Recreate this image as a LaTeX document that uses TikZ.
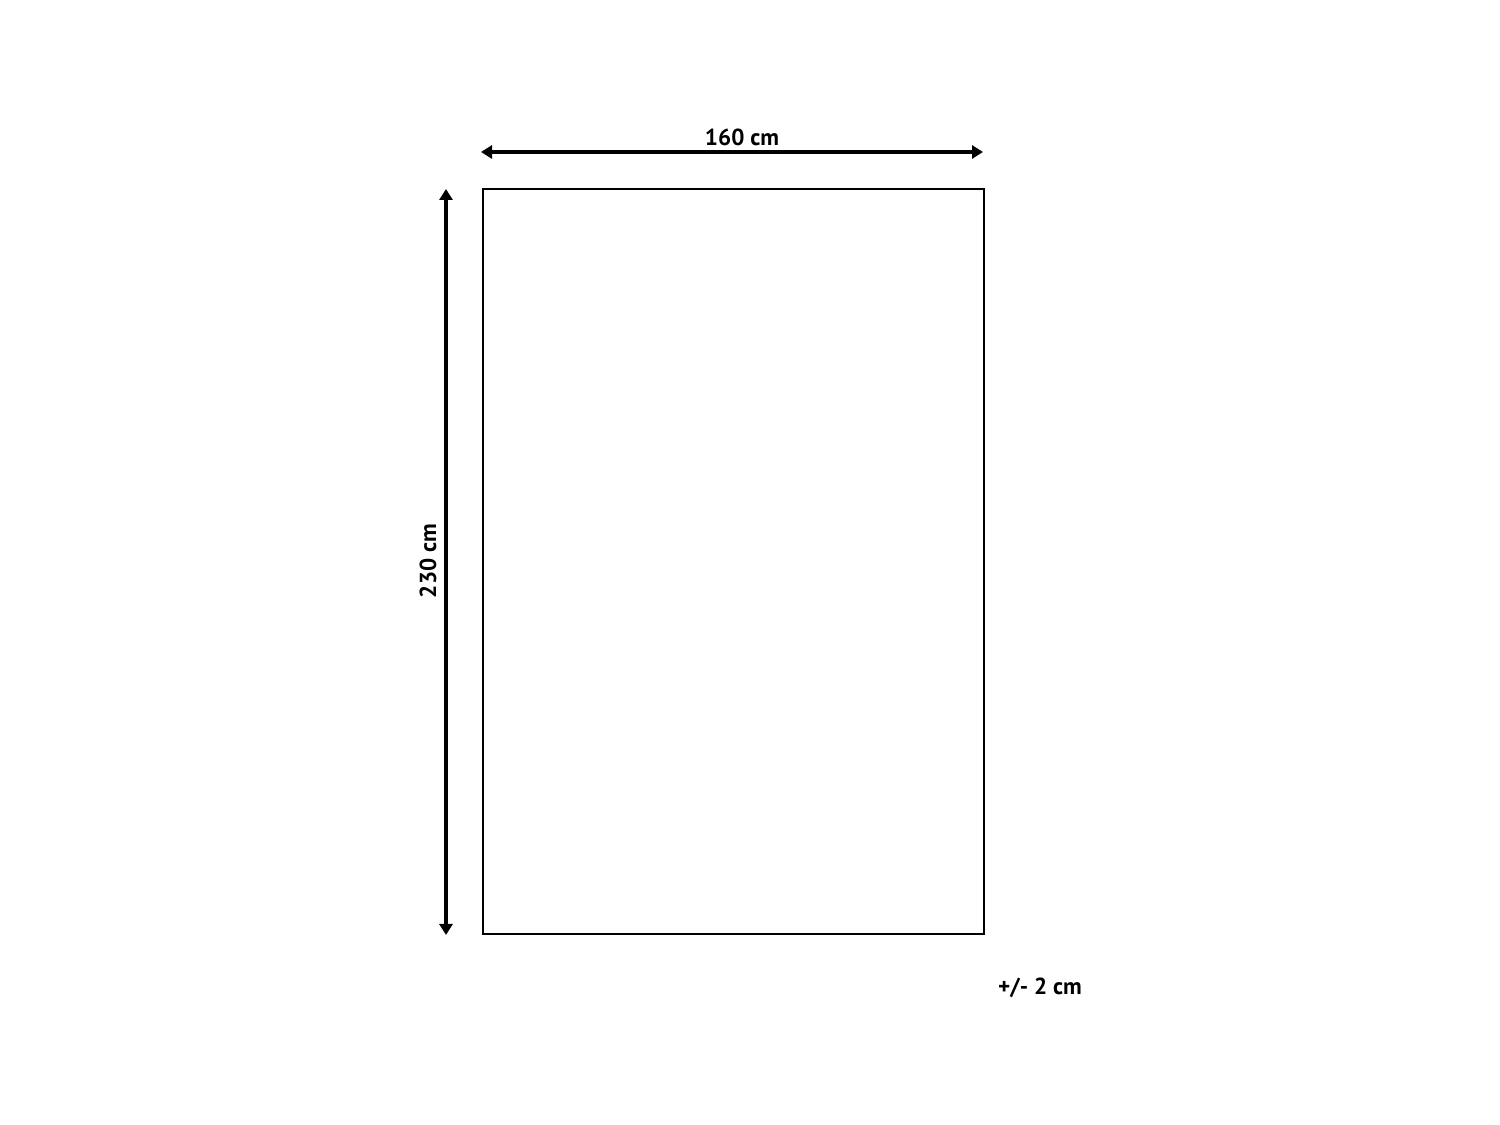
\documentclass[tikz,border=0pt]{standalone}
\usepackage{fontspec}
\setmainfont{PT Sans}
\usetikzlibrary{arrows.meta}
\tikzset{dimline/.style={line width=1.1pt, {Triangle[length=1.1mm,width=1.3mm]}-{Triangle[length=1.1mm,width=1.3mm]}},
  dimtext/.style={font=\fontsize{6.6}{8}\selectfont\bfseries, inner sep=0pt}}
\begin{document}
\begin{tikzpicture}
\useasboundingbox (0,0) rectangle (15,11.25);
\node[draw, line width=0.3pt, minimum width=5.01cm, minimum height=7.45cm, inner sep=0pt] (rug) at (7.335,5.635){};
\coordinate (w0) at (4.81,9.73);
\coordinate (w1) at (9.83,9.73);
\coordinate (h0) at (4.46,9.36);
\coordinate (h1) at (4.46,1.90);
\draw[dimline](w0) -- (w1);
\draw[dimline](h0) -- (h1);
\node[dimtext] (wlabel) at (7.42,9.88){160 cm};
\node[dimtext, rotate=90] (hlabel) at (4.28,5.64){230 cm};
\node[dimtext] (tol) at (10.40,1.37){+/- 2 cm};

\end{tikzpicture}
\end{document}
